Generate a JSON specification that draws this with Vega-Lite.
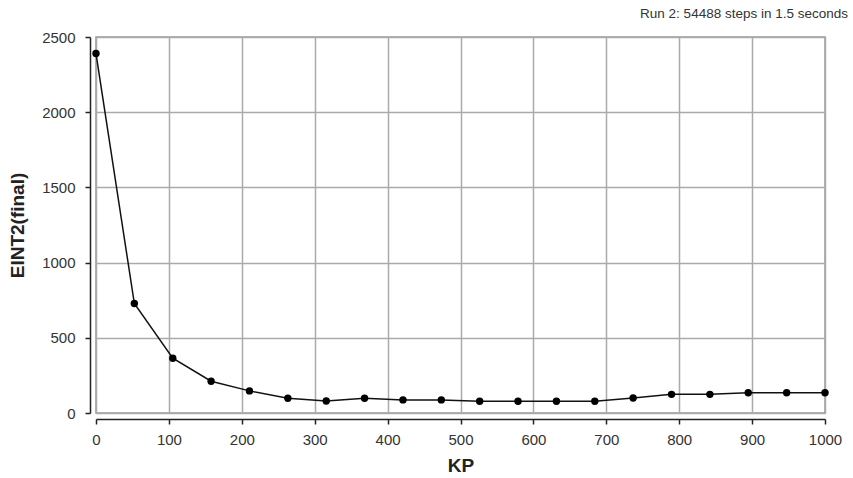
{
  "$schema": "https://vega.github.io/schema/vega-lite/v6.json",
  "autosize": "none",
  "width": 729,
  "height": 376,
  "padding": {"left": 96, "top": 37, "right": 28, "bottom": 65},
  "background": "white",
  "title": {
    "text": "Run 2: 54488 steps in 1.5 seconds",
    "anchor": "end",
    "frame": "group",
    "dx": 23,
    "offset": 10,
    "fontSize": 13.5,
    "font": "Liberation Sans",
    "fontWeight": "normal",
    "color": "#333"
  },
  "config": {
    "view": {"stroke": "#999", "strokeWidth": 1.5},
    "font": "Liberation Sans"
  },
  "data": {
    "values": [
      {"KP": 0, "E": 2390},
      {"KP": 52.6, "E": 728},
      {"KP": 105.3, "E": 364},
      {"KP": 157.9, "E": 211},
      {"KP": 210.5, "E": 147},
      {"KP": 263.2, "E": 98},
      {"KP": 315.8, "E": 80},
      {"KP": 368.4, "E": 98},
      {"KP": 421.1, "E": 87},
      {"KP": 473.7, "E": 87},
      {"KP": 526.3, "E": 78},
      {"KP": 578.9, "E": 78},
      {"KP": 631.6, "E": 78},
      {"KP": 684.2, "E": 78},
      {"KP": 736.8, "E": 100},
      {"KP": 789.5, "E": 124},
      {"KP": 842.1, "E": 124},
      {"KP": 894.7, "E": 135},
      {"KP": 947.4, "E": 135},
      {"KP": 1000, "E": 135}
    ]
  },
  "encoding": {
    "x": {
      "field": "KP", "type": "quantitative",
      "scale": {"domain": [0, 1000], "nice": false},
      "axis": {
        "title": "KP", "titleFontSize": 19, "titleFontWeight": "bold", "titleColor": "#222", "titlePadding": 9,
        "values": [0,100,200,300,400,500,600,700,800,900,1000], "format": "d",
        "labelFontSize": 15, "labelColor": "#333", "labelPadding": 8,
        "offset": 6, "tickSize": 5, "tickColor": "#222", "domainColor": "#222", "domainWidth": 1.5, "tickWidth": 1.5,
        "gridColor": "#aaa", "gridWidth": 1.5, "labelFlush": false
      }
    },
    "y": {
      "field": "E", "type": "quantitative",
      "scale": {"domain": [0, 2500], "nice": false},
      "axis": {
        "title": "EINT2(final)", "titleFontSize": 19, "titleFontWeight": "bold", "titleColor": "#222", "titlePadding": 14,
        "values": [0,500,1000,1500,2000,2500], "format": "d",
        "labelFontSize": 15, "labelColor": "#333", "labelPadding": 10,
        "offset": 6, "tickSize": 5, "tickColor": "#222", "domainColor": "#222", "domainWidth": 1.5, "tickWidth": 1.5,
        "gridColor": "#aaa", "gridWidth": 1.5, "labelFlush": false
      }
    }
  },
  "layer": [
    {"mark": {"type": "line", "color": "#111", "strokeWidth": 1.5}},
    {"mark": {"type": "point", "filled": true, "color": "#000", "size": 55, "opacity": 1}}
  ]
}
